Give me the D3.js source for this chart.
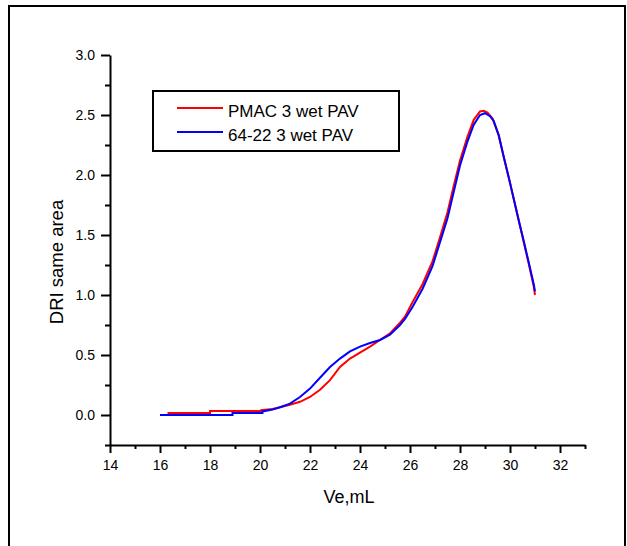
<!DOCTYPE html>
<html>
<head>
<meta charset="utf-8">
<script src="https://cdn.jsdelivr.net/npm/d3@7"></script>
<style>
    body { margin: 0; background: #fff; }
    text { font-family: "Liberation Sans", Arial, sans-serif; }
</style>
</head>
<body>
<div id="chart"></div>
<script>
// series names
var seriesNames = ["PMAC 3 wet PAV", "64-22 3 wet PAV"];
var seriesColors = ["#ff0000", "#0000ff"];

// PMAC 3 wet PAV  [Ve, DRI]
var pmacData = [
    [16.3, 0.017], [18.0, 0.017], [18.0, 0.033], [20.05, 0.033], [20.05, 0.04],
    [20.5, 0.05], [20.8, 0.065], [21.2, 0.085], [21.6, 0.11], [22.0, 0.15],
    [22.4, 0.21], [22.8, 0.29], [23.2, 0.40], [23.6, 0.47], [24.0, 0.52],
    [24.4, 0.57], [24.8, 0.625], [25.2, 0.68], [25.6, 0.77], [25.8, 0.82],
    [26.1, 0.94], [26.5, 1.09], [26.9, 1.28], [27.2, 1.48], [27.5, 1.69],
    [27.75, 1.91], [28.0, 2.12], [28.3, 2.32], [28.55, 2.46], [28.8, 2.53],
    [28.95, 2.535], [29.1, 2.52], [29.3, 2.47], [29.55, 2.33], [29.75, 2.15],
    [29.95, 1.98], [30.15, 1.8], [30.35, 1.62], [30.55, 1.44], [30.75, 1.26],
    [30.95, 1.07], [31.0, 1.0]
];

// 64-22 3 wet PAV  [Ve, DRI]
var pav6422Data = [
    [16.0, 0.0], [18.9, 0.0], [18.9, 0.017], [20.1, 0.017], [20.1, 0.03],
    [20.5, 0.045], [20.8, 0.065], [21.2, 0.095], [21.6, 0.15], [22.0, 0.22],
    [22.4, 0.31], [22.8, 0.40], [23.2, 0.47], [23.6, 0.53], [24.0, 0.57],
    [24.4, 0.60], [24.8, 0.625], [25.2, 0.67], [25.6, 0.75], [25.8, 0.8],
    [26.1, 0.9], [26.5, 1.05], [26.9, 1.24], [27.2, 1.44], [27.5, 1.64],
    [27.75, 1.86], [28.0, 2.08], [28.3, 2.28], [28.55, 2.42], [28.8, 2.5],
    [29.0, 2.515], [29.2, 2.49], [29.35, 2.45], [29.55, 2.33], [29.75, 2.15],
    [29.95, 1.98], [30.15, 1.8], [30.35, 1.62], [30.55, 1.45], [30.75, 1.27],
    [30.95, 1.09], [31.0, 1.03]
];

var xTicks = [14, 16, 18, 20, 22, 24, 26, 28, 30, 32];
var xMinorTicks = [15, 17, 19, 21, 23, 25, 27, 29, 31, 33];
var yTicks = [0.0, 0.5, 1.0, 1.5, 2.0, 2.5, 3.0];
var yMinorTicks = [-0.25, 0.25, 0.75, 1.25, 1.75, 2.25, 2.75];

var width = 627,
    height = 546;

var svg = d3.select("#chart")
    .append("svg")
    .attr("width", width)
    .attr("height", height);

// outer frame
svg.append("rect")
    .attr("x", 9)
    .attr("y", 6)
    .attr("width", 616)
    .attr("height", 560)
    .style("fill", "none")
    .style("stroke", "#000")
    .style("stroke-width", 2);

var x = d3.scaleLinear()
    .domain([14, 33])
    .range([110, 585]);

var y = d3.scaleLinear()
    .domain([-0.25, 3.0])
    .range([445, 55]);

// minor ticks first
svg.append("g")
    .attr("transform", "translate(0,445)")
    .call(d3.axisBottom(x).tickValues(xMinorTicks).tickSize(4).tickFormat(""))
    .call(function(g) { g.select(".domain").remove(); })
    .selectAll("line").style("stroke-width", 2);

svg.append("g")
    .attr("transform", "translate(110,0)")
    .call(d3.axisLeft(y).tickValues(yMinorTicks).tickSize(5).tickFormat(""))
    .call(function(g) { g.select(".domain").remove(); })
    .selectAll("line").style("stroke-width", 2);

var xAxis = svg.append("g")
    .attr("transform", "translate(0,445)")
    .call(d3.axisBottom(x)
        .tickValues(xTicks)
        .tickSizeInner(8)
        .tickSizeOuter(0)
        .tickPadding(7)
        .tickFormat(d3.format("d")));

var yAxis = svg.append("g")
    .attr("transform", "translate(110,0)")
    .call(d3.axisLeft(y)
        .tickValues(yTicks)
        .tickSizeInner(9)
        .tickSizeOuter(0)
        .tickPadding(6)
        .tickFormat(d3.format(".1f")));

[xAxis, yAxis].forEach(function(ax) {
    ax.select(".domain").style("stroke-width", 2);
    ax.selectAll(".tick line").style("stroke-width", 2);
    ax.selectAll(".tick text")
        .style("font-family", "'Liberation Sans', Arial, sans-serif")
        .style("font-size", "14px")
        .style("fill", "#000");
});

// axis titles
svg.append("text")
    .attr("x", 349)
    .attr("y", 503)
    .style("text-anchor", "middle")
    .style("font-size", "18px")
    .text("Ve,mL");

svg.append("text")
    .attr("transform", "translate(63,262) rotate(-90)")
    .style("text-anchor", "middle")
    .style("font-size", "18.5px")
    .text("DRI same area");

// lines
var line = d3.line()
    .x(function(d) { return x(d[0]); })
    .y(function(d) { return y(d[1]); });

[pmacData, pav6422Data].forEach(function(data, i) {
    svg.append("path")
        .datum(data)
        .attr("d", line)
        .style("fill", "none")
        .style("stroke", seriesColors[i])
        .style("stroke-width", 2);
});

// legend
var legend = svg.append("g");

legend.append("rect")
    .attr("x", 153)
    .attr("y", 91)
    .attr("width", 246)
    .attr("height", 60)
    .style("fill", "#fff")
    .style("stroke", "#000")
    .style("stroke-width", 2);

seriesNames.forEach(function(name, i) {
    var ly = 108 + i * 24;
    legend.append("line")
        .attr("x1", 177)
        .attr("x2", 223)
        .attr("y1", ly)
        .attr("y2", ly)
        .style("stroke", seriesColors[i])
        .style("stroke-width", 2);
    legend.append("text")
        .attr("x", 228)
        .attr("y", ly + 9)
        .style("font-size", "17px")
        .text(name);
});
</script>
</body>
</html>
